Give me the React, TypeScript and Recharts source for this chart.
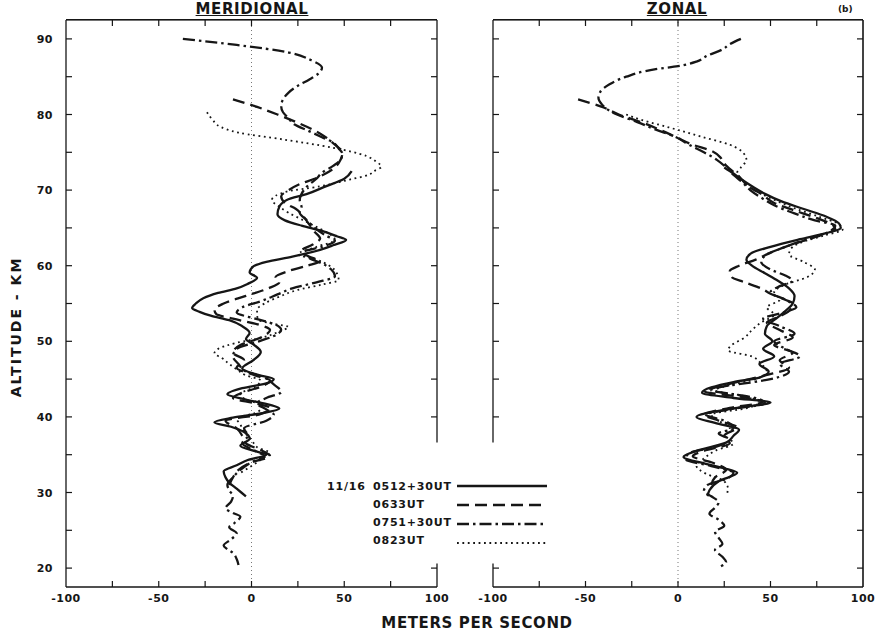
import React from "react";
import { LineChart, Line, XAxis, YAxis, ReferenceLine } from "recharts";

// altitude (km) / wind (m/s) pairs, top to bottom
const merSolid: [number, number][] = [
  [72.5, 54], [71.5, 50], [70.5, 40], [69.5, 30], [68.7, 19], [67.8, 15], [66.8, 14], [66, 18],
  [65.3, 27], [64.6, 38], [63.9, 46], [63.4, 51], [62.7, 44], [62.1, 37], [61.2, 22], [60.5, 8],
  [59.9, 1], [59.1, -1], [58.4, 3], [57.6, -2], [57, -8], [56.4, -18], [55.7, -26], [55, -30],
  [54.4, -32], [53.9, -28], [53.4, -22], [52.8, -12], [52, -5], [51.1, -1], [50.3, -3], [49.6, 1],
  [48.6, 5], [47.5, 1], [46.4, -5], [45.6, 3], [45, 12], [44.5, 9], [43.8, -5], [43, -13],
  [42.3, -3], [41.6, 10], [41.1, 15], [40.5, 6], [39.9, -10], [39.3, -20], [38.7, -11], [38, -4],
  [37.1, -1], [36.2, -6], [35.4, 3], [35, 8], [34.3, -2], [33.6, -8], [32.8, -15], [32, -14],
  [31.3, -12], [30.5, -8], [29.5, -3],
];

const merDashed: [number, number][] = [
  [82, -10], [81, 3], [80, 14], [79, 24], [78, 33], [77, 40], [76, 45], [75, 49], [74, 48],
  [73, 45], [72.2, 40], [71.5, 34], [70.8, 26], [70, 20], [69.2, 16], [68.3, 18], [67.5, 24],
  [66.5, 28], [65.5, 31], [64.5, 34], [63.6, 37], [62.8, 33], [62, 27], [61.2, 31], [60.6, 37],
  [60, 30], [59.3, 20], [58.5, 13], [57.8, 15], [57, 9], [56, -3], [55, -15], [54.2, -20],
  [53.6, -19], [53, -10], [52.2, 4], [51.5, 10], [50.5, 5], [49.5, -6], [48.5, -10], [47.5, -4],
  [46.5, -8], [45.5, 2], [44.8, 10], [44, 5], [43.2, -5], [42.5, -10], [41.8, 2], [41.2, 10],
  [40.3, 4], [39.5, -14], [38.5, -8], [37.5, -5], [36.5, -3], [35.5, 6], [34.8, 10], [34, 0],
  [33, -7], [32, -10], [31, -12],
];

const merDashDot: [number, number][] = [
  [90, -37], [89.2, -8], [88.2, 20], [87.2, 32], [86.2, 38], [85.4, 36], [84.6, 31], [83.8, 25],
  [82.9, 20], [82, 17], [81.1, 16], [80.3, 17], [79.5, 20], [78.7, 23], [77.8, 31], [77, 38],
  [76.3, 44], [75.5, 47], [74.8, 49], [74, 48], [73.2, 44], [72.3, 38], [71.5, 35], [70.5, 30],
  [69.5, 27], [68.7, 26], [67.7, 27], [67, 26], [66, 30], [65, 34], [64, 40], [63.3, 45],
  [62.5, 38], [61.8, 28], [61, 31], [60.3, 38], [59.5, 43], [58.6, 45], [57.8, 35], [57, 22],
  [56.2, 14], [55.3, 5], [54.5, -5], [53.8, -8], [53, 2], [52.3, 12], [51.5, 16], [50.7, 12],
  [50, 4], [49, -8], [48, -10], [47, -7], [46, -3], [45.3, 6], [44.3, 12], [43.3, 16],
  [42.5, 8], [41.8, 3], [41, 8], [40.3, 12], [39.5, 8], [38.5, -4], [37.5, -2], [36.5, -5],
  [35.5, 2], [34.8, 7], [34, 0], [33, -6], [32, -10], [31, -13], [30.3, -12], [29.5, -10],
  [28.8, -11], [27.9, -14], [27.3, -10], [26.8, -6], [26, -9], [25.4, -12], [24.6, -8],
  [23.8, -11], [23, -15], [22.5, -13], [22, -10], [21.2, -8], [20.4, -7],
];

const merDotted: [number, number][] = [
  [80.3, -24], [79.3, -21], [78.4, -17], [77.6, -7], [76.7, 17], [75.6, 44], [74.5, 62],
  [73.8, 67], [73.1, 70], [72.5, 66], [72, 63], [71.4, 53], [70.5, 37], [69.8, 19], [68.7, 11],
  [67.8, 15], [67, 20], [66, 28], [65, 36], [64.2, 42], [63.4, 45], [62.5, 35], [61.5, 25],
  [60.8, 35], [60, 42], [59, 46], [58.1, 47], [57.5, 38], [56.8, 25], [55.9, 15], [55, 7],
  [54.2, 3], [53.5, 3], [52.8, 4], [52.3, 12], [51.9, 20], [51.3, 15], [50.5, 6], [49.8, -8],
  [49, -18], [48.4, -20], [47.8, -16], [47, -12], [46.3, -8], [45.5, -3], [44.8, 5], [44, 2],
  [43, -6], [42.3, -3], [41.5, 6], [40.6, 3], [39.8, -8], [39, -6], [38, -4], [37, 0], [36, 3],
  [35.2, 10], [34.5, 6], [33.5, 0], [32.6, -6],
];

const zonSolid: [number, number][] = [
  [73, 25], [72.2, 30], [71.3, 35], [70.5, 40], [69.5, 47], [68.5, 56], [67.5, 68], [66.5, 80],
  [65.6, 87], [65, 88], [64.3, 80], [63.5, 66], [62.5, 50], [61.7, 40], [60.8, 37], [60, 40],
  [59, 47], [58, 54], [57, 60], [56, 63], [55, 62], [54, 58], [53, 53], [52, 48], [51, 47],
  [50, 51], [49, 46], [48, 52], [47, 44], [46, 49], [45.2, 44], [44.6, 30], [43.2, 13],
  [42.5, 30], [41.9, 50], [41.2, 32], [40, 10], [39.2, 20], [38.3, 33], [37.5, 30], [36.6, 26],
  [35.5, 10], [34.7, 3], [33.8, 15], [33.2, 25], [32.6, 32], [31.5, 22], [30.3, 17], [29.5, 16],
];

const zonDashed: [number, number][] = [
  [82, -54], [81, -41], [80, -32], [79, -20], [78, -10], [77, -1], [76, 8], [75.2, 18],
  [74.3, 23], [73.5, 25], [72.8, 28], [71.8, 33], [70.5, 38], [69.5, 45], [68.3, 52],
  [67.3, 63], [66.3, 75], [65.5, 83], [64.8, 85], [64, 76], [63.3, 68], [62.5, 58], [61.6, 49],
  [60.8, 42], [60, 33], [59.3, 28], [58.5, 29], [57.8, 36], [57, 45], [56.3, 50], [55.5, 58],
  [55, 62], [54, 60], [53.2, 54], [52.5, 48], [51.5, 55], [50.5, 62], [49.5, 52], [48.5, 62],
  [47.5, 55], [46.5, 60], [45.5, 47], [44.8, 35], [44, 22], [43.4, 14], [42.6, 35], [42, 46],
  [41.2, 28], [40.3, 14], [39.5, 22], [38.6, 32], [37.5, 25], [36.5, 28], [35.5, 14],
  [34.8, 8], [34, 18], [33, 26], [32, 20], [31, 18],
];

const zonDashDot: [number, number][] = [
  [90, 34], [89.3, 28], [88.6, 24], [87.8, 16], [87, 10], [86.4, 0], [86, -12], [85, -28],
  [84, -37], [83, -42], [82.2, -43], [81.3, -41], [80.5, -37], [80, -33], [79, -22], [78, -12],
  [77, -1], [76, 6], [75, 14], [74, 21], [73, 26], [72, 30], [71, 35], [70, 39], [69, 45],
  [68, 52], [67, 62], [66, 74], [65.3, 85], [64.7, 83], [64, 77], [63.2, 66], [62.3, 56],
  [61.5, 48], [60.5, 45], [59.5, 50], [58.7, 58], [58, 62], [57.3, 55], [56.5, 50], [55.5, 58],
  [54.5, 64], [53.8, 57], [53, 46], [52, 55], [51, 63], [50, 52], [49, 58], [48, 66], [47, 55],
  [46, 60], [45, 50], [44.5, 38], [44, 24], [43.5, 18], [43, 30], [42.5, 42], [41.8, 47],
  [41, 28], [40.3, 15], [39.5, 25], [38.5, 30], [37.8, 22], [37, 28], [36, 20], [35.2, 6],
  [34.4, 4], [33.5, 18], [32.6, 30], [31.8, 26], [31, 16], [30.2, 14], [29.5, 18], [28.7, 22],
  [28, 20], [27.2, 17], [26.4, 22], [25.6, 25], [24.8, 20], [24, 22], [23.2, 24], [22.4, 20],
  [21.5, 24], [20.8, 26], [20.2, 23],
];

const zonDotted: [number, number][] = [
  [80, -28], [79.3, -20], [78.3, -5], [77.1, 12], [76, 28], [75, 35], [74, 37], [73, 34],
  [72.3, 32], [71.3, 35], [70.5, 38], [69.5, 45], [68.5, 54], [67.5, 64], [66.5, 76],
  [65.5, 87], [64.8, 89], [64, 79], [63.2, 68], [62.5, 62], [61.5, 60], [60.5, 68], [59.5, 74],
  [58.5, 70], [57.5, 58], [56.5, 52], [55.5, 55], [54.5, 48], [53.5, 52], [52.5, 45],
  [51.5, 40], [50.5, 36], [49.5, 29], [48.8, 27], [48, 40], [47, 45], [46, 48], [45, 42],
  [44.2, 28], [43.5, 20], [42.8, 35], [42, 44], [41.2, 38], [40.3, 18], [39.5, 22], [38.5, 28],
  [37.5, 26], [36.5, 30], [35.5, 20], [34.5, 14], [33.5, 10], [32.5, 15], [31.5, 25],
  [30.5, 27], [29.5, 26],
];

const seriesNames = ["0512+30UT", "0633UT", "0751+30UT", "0823UT"];
const xTicks = [-100, -75, -50, -25, 0, 25, 50, 75, 100];
const yTicks = [20, 25, 30, 35, 40, 45, 50, 55, 60, 65, 70, 75, 80, 85, 90];
// the frame is broken between the panels where the legend sits
const yTicksBroken = [20, 40, 45, 50, 55, 60, 65, 70, 75, 80, 85, 90];

const INK = "#161616";
const FONT = "'DejaVu Sans', Verdana, sans-serif";
const Y_MIN = 17.5;
const Y_MAX = 92.5;

// plot boxes in page pixels (chart margins below are set to produce these)
const TOP = 20;
const BOTTOM = 587;
const boxes = [
  { x0: 66, x1: 437, rightTicks: yTicksBroken, fullRight: false },
  { x0: 493, x1: 863, rightTicks: yTicks, fullRight: true },
];
const yPix = (alt: number) => TOP + ((Y_MAX - alt) / (Y_MAX - Y_MIN)) * (BOTTOM - TOP);

const styles = [
  { strokeWidth: 2.3, dash: undefined as string | undefined },
  { strokeWidth: 2.3, dash: "12 6" },
  { strokeWidth: 2.3, dash: "12 4 2.5 4" },
  { strokeWidth: 1.8, dash: "1.8 3.6" },
];

const toRows = (pts: [number, number][]) => pts.map(([alt, v]) => ({ alt, v }));

const BottomTick = ({ x, y, payload }: any) => {
  const v = payload.value;
  return (
    <g>
      {Math.abs(v) !== 100 && <line x1={x} x2={x} y1={y} y2={y - 6} stroke={INK} strokeWidth={1.2} />}
      {v % 50 === 0 && (
        <text x={x} y={y + 15} textAnchor="middle" fontSize={11} fontWeight="bold" fontFamily={FONT} fill={INK} letterSpacing={0.5}>
          {v}
        </text>
      )}
    </g>
  );
};

const LeftTick = ({ x, y, payload, showLabel, tickSet }: any) => {
  const v = payload.value;
  return (
    <g>
      {tickSet.includes(v) && <line x1={x} x2={x + 6} y1={y} y2={y} stroke={INK} strokeWidth={1.2} />}
      {showLabel && v % 10 === 0 && (
        <text x={x - 13} y={y + 4} textAnchor="end" fontSize={11} fontWeight="bold" fontFamily={FONT} fill={INK} letterSpacing={0.5}>
          {v}
        </text>
      )}
    </g>
  );
};

interface PanelProps {
  series: [number, number][][];
  left: number;
  width: number;
  yAxisWidth: number;
  rightMargin: number;
  labels: boolean;
  breakSide: "left" | "right";
}

const Panel = ({ series, left, width, yAxisWidth, rightMargin, labels, breakSide }: PanelProps) => {
  const brokenX = breakSide === "right" ? 100 : -100;
  const frame = { stroke: INK, strokeWidth: 1.3, ifOverflow: "visible" as const };
  return (
    <div style={{ position: "absolute", left, top: 0 }}>
      <LineChart layout="vertical" width={width} height={638} margin={{ top: TOP, right: rightMargin, bottom: 0, left: 0 }}>
        <XAxis type="number" dataKey="v" domain={[-100, 100]} ticks={xTicks} interval={0} height={638 - BOTTOM}
          tickSize={0} tickMargin={0} tickLine={false} axisLine={{ stroke: INK, strokeWidth: 1.3 }} tick={<BottomTick />} allowDataOverflow />
        <YAxis type="number" dataKey="alt" domain={[Y_MIN, Y_MAX]} reversed ticks={yTicks} interval={0}
          width={yAxisWidth} tickSize={0} tickMargin={0} tickLine={false} axisLine={false}
          tick={<LeftTick showLabel={labels} tickSet={breakSide === "left" ? yTicksBroken : yTicks} />} allowDataOverflow />
        <ReferenceLine x={0} stroke="#777" strokeWidth={1} strokeDasharray="1 3" />
        {breakSide === "right" && <ReferenceLine segment={[{ x: -100, y: Y_MAX }, { x: -100, y: Y_MIN }]} {...frame} />}
        <ReferenceLine segment={[{ x: brokenX, y: Y_MAX }, { x: brokenX, y: 36.6 }]} {...frame} />
        <ReferenceLine segment={[{ x: brokenX, y: 20.6 }, { x: brokenX, y: Y_MIN }]} {...frame} />
        {series.map((pts, i) => (
          <Line key={seriesNames[i]} name={seriesNames[i]} data={toRows(pts)} dataKey="v" type="monotone" stroke={INK}
            strokeWidth={styles[i].strokeWidth} strokeDasharray={styles[i].dash} dot={false} activeDot={false} isAnimationActive={false} />
        ))}
      </LineChart>
    </div>
  );
};

const txt = { fontFamily: FONT, fontWeight: "bold" as const, color: INK, position: "absolute" as const, whiteSpace: "nowrap" as const };

export default function App() {
  return (
    <div style={{ position: "absolute", left: 0, top: 0, width: 877, height: 638, background: "#fff", overflow: "hidden" }}>
      <Panel series={[zonSolid, zonDashed, zonDashDot, zonDotted]} left={440} width={437} yAxisWidth={53} rightMargin={14} labels={false} breakSide="left" />
      <Panel series={[merSolid, merDashed, merDashDot, merDotted]} left={0} width={455} yAxisWidth={66} rightMargin={18} labels breakSide="right" />

      <div style={{ ...txt, left: 252, top: 0, transform: "translateX(-50%)", fontSize: 15, letterSpacing: 0.6, textDecoration: "underline" }}>MERIDIONAL</div>
      <div style={{ ...txt, left: 677, top: 0, transform: "translateX(-50%)", fontSize: 15, letterSpacing: 0.6, textDecoration: "underline" }}>ZONAL</div>
      <div style={{ ...txt, left: 838, top: 4, fontSize: 9 }}>(b)</div>
      <div style={{ ...txt, left: 477, top: 614, transform: "translateX(-50%)", fontSize: 15, letterSpacing: 0.6 }}>METERS PER SECOND</div>
      <div style={{ ...txt, left: 16, top: 327, transform: "translate(-50%, -50%) rotate(-90deg)", fontSize: 14, letterSpacing: 2 }}>ALTITUDE - KM</div>

      <svg width={877} height={638} style={{ position: "absolute", left: 0, top: 0, zIndex: 5, pointerEvents: "none" }}>
        {/* top edge, top ticks, right-edge ticks of each frame */}
        {boxes.map((b, k) => (
          <g key={k}>
            <rect x={b.x0} y={TOP - 1} width={b.x1 - b.x0} height={1.6} fill={INK} />
            {b.fullRight && <rect x={b.x1 - 0.8} y={TOP} width={1.6} height={BOTTOM - TOP} fill={INK} />}
            {xTicks.slice(1, -1).map((t) => {
              const x = b.x0 + ((t + 100) / 200) * (b.x1 - b.x0);
              return <rect key={`t${t}`} x={x - 0.6} y={TOP} width={1.2} height={6} fill={INK} />;
            })}
            {b.rightTicks.map((t) => (
              <rect key={`r${t}`} x={b.x1 - 6} y={yPix(t) - 0.6} width={6} height={1.2} fill={INK} />
            ))}
          </g>
        ))}

        <text x={327} y={490} fontSize={11} fontWeight="bold" fontFamily={FONT} fill={INK} letterSpacing={0.8}>11/16</text>
        {seriesNames.map((name, i) => (
          <g key={name}>
            <text x={373} y={490 + i * 18} fontSize={11} fontWeight="bold" fontFamily={FONT} fill={INK} letterSpacing={0.8}>{name}</text>
            <line x1={457} x2={547} y1={486 + i * 19} y2={486 + i * 19} stroke={INK} strokeWidth={styles[i].strokeWidth} strokeDasharray={styles[i].dash} />
          </g>
        ))}
      </svg>
    </div>
  );
}
